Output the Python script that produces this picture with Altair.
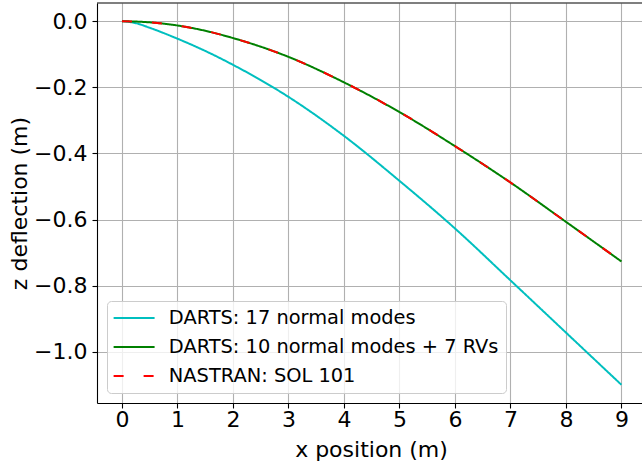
import altair as alt
import pandas as pd

# ---- data ----
series_names = ["DARTS: 17 normal modes", "DARTS: 10 normal modes + 7 RVs", "NASTRAN: SOL 101"]

x_modes17 = [0, 0.25, 0.5, 1, 1.5, 2, 3, 4, 5, 6, 7, 8, 9]
z_modes17 = [0.0, -0.006, -0.02, -0.053, -0.09, -0.132, -0.229, -0.347, -0.483, -0.627, -0.784, -0.942, -1.1]

x_modes10 = [0, 0.5, 1, 1.5, 2, 3, 4, 5, 6, 7, 8, 9]
z_modes10 = [0.0, -0.0035, -0.013, -0.029, -0.051, -0.108, -0.185, -0.275, -0.378, -0.488, -0.607, -0.727]

x_nastran = [0, 0.5, 1, 1.5, 2, 3, 4, 5, 6, 7, 8, 9]
z_nastran = [0.0, -0.0035, -0.013, -0.029, -0.051, -0.108, -0.185, -0.275, -0.378, -0.488, -0.607, -0.727]

x_ticks = [0, 1, 2, 3, 4, 5, 6, 7, 8, 9]
y_ticks = [-1.0, -0.8, -0.6, -0.4, -0.2, 0.0]

colors = ["#00bfbf", "#008000", "#ff0000"]
dashes = [[1, 0], [1, 0], [10, 20]]

df = pd.concat([
    pd.DataFrame({"x": x_modes17, "z": z_modes17, "series": series_names[0]}),
    pd.DataFrame({"x": x_modes10, "z": z_modes10, "series": series_names[1]}),
    pd.DataFrame({"x": x_nastran, "z": z_nastran, "series": series_names[2]}),
], ignore_index=True)

W, H = 545, 400
FONT = "DejaVu Sans"

legend = alt.Legend(
    title=None, orient="bottom-left", offset=10, padding=7.4, rowPadding=8,
    labelFont=FONT, labelFontSize=19.4, labelColor="black", labelLimit=1000,
    symbolType="M-4,0H4", symbolSize=105, symbolStrokeWidth=2,
    symbolOffset=10, labelOffset=25,
    fillColor="rgba(255,255,255,0.8)", strokeColor="#cccccc", cornerRadius=4,
)

x_enc = alt.X("x:Q",
              scale=alt.Scale(domain=[-0.45, 9.37], nice=False, zero=False),
              axis=alt.Axis(values=x_ticks, format="d", title="x position (m)",
                            labelPadding=1,
                            titleX=274, titleY=53.4, titleBaseline="alphabetic",
                            titleAnchor="start", titleAlign="center"))
y_enc = alt.Y("z:Q",
              scale=alt.Scale(domain=[-1.155, 0.055], nice=False, zero=False),
              axis=alt.Axis(values=y_ticks, format=".1f", title="z deflection (m)",
                            titleX=-70.3, titleY=200, titleBaseline="alphabetic",
                            titleAlign="center", titleAngle=270))
color_enc = alt.Color("series:N", scale=alt.Scale(domain=series_names, range=colors), legend=legend)
dash_enc = alt.StrokeDash("series:N", scale=alt.Scale(domain=series_names, range=dashes), legend=legend)

layers = []
for name in series_names:
    layers.append(
        alt.Chart(df).transform_filter(alt.datum.series == name)
        .mark_line(strokeWidth=2, interpolate="monotone", clip=True)
        .encode(x=x_enc, y=y_enc, color=color_enc, strokeDash=dash_enc)
    )

top_spine = alt.Chart(pd.DataFrame({"a": [0]})).mark_rule(color="black", strokeWidth=1.1).encode(
    x=alt.value(0), x2=alt.value(W), y=alt.value(0))

chart = alt.layer(*layers, top_spine).properties(
    width=W, height=H,
    autosize=alt.AutoSizeParams(type="none"),
    padding={"left": 97, "top": 3, "right": 0, "bottom": 61},
).configure_view(stroke=None).configure_axis(
    labelFont=FONT, titleFont=FONT, labelFontSize=22, titleFontSize=22,
    titleFontWeight="normal", labelColor="black", titleColor="black",
    tickColor="black", domainColor="black", domainWidth=1.1, tickWidth=1.1,
    tickSize=5, labelPadding=5, gridColor="#b0b0b0", gridWidth=1.1, gridOpacity=1,
)

chart.save("out.html", embed_options={"renderer": "svg", "actions": False})
